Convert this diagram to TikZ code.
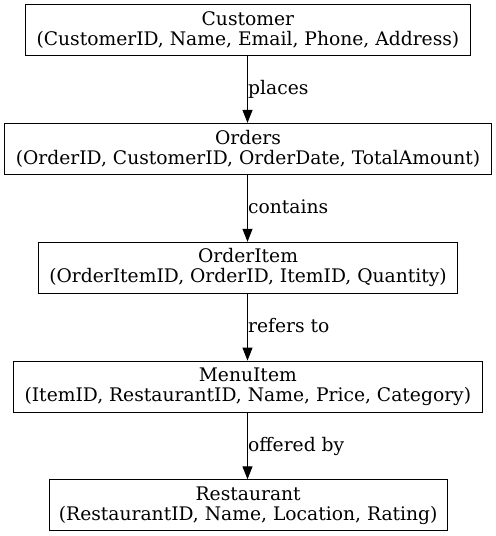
\documentclass[tikz,border=0pt]{standalone}
\usepackage{fontspec}
\setmainfont{DejaVu Serif}
\usetikzlibrary{arrows.meta}
\begin{document}
\begin{tikzpicture}[x=1bp,y=-1bp,
  entity/.style={draw=black,line width=1bp,rectangle,inner sep=0pt,align=center,
    font=\fontsize{18.7bp}{20bp}\selectfont},
  rel/.style={anchor=base west,inner sep=0pt,font=\fontsize{18.7bp}{20bp}\selectfont},
  link/.style={draw=black,line width=1bp,-{Triangle[length=13bp,width=10bp]}}]
\useasboundingbox (0,0) rectangle (496,536);
\node[entity,minimum width=445.7bp,minimum height=51bp] (customer) at (247.9,30.5)
  {Customer\\(CustomerID, Name, Email, Phone, Address)};
\node[entity,minimum width=486bp,minimum height=51bp] (orders) at (248,148.9)
  {Orders\\(OrderID, CustomerID, OrderDate, TotalAmount)};
\node[entity,minimum width=419.4bp,minimum height=51bp] (orderitem) at (248,267.8)
  {OrderItem\\(OrderItemID, OrderID, ItemID, Quantity)};
\node[entity,minimum width=469bp,minimum height=51bp] (menuitem) at (247.8,386.6)
  {MenuItem\\(ItemID, RestaurantID, Name, Price, Category)};
\node[entity,minimum width=398.3bp,minimum height=51bp] (restaurant) at (248.2,505.3)
  {Restaurant\\(RestaurantID, Name, Location, Rating)};
\coordinate (x0) at (247.5,0);
\draw[link] (customer.south -| x0) -- (orders.north -| x0);
\draw[link] (orders.south -| x0) -- (orderitem.north -| x0);
\draw[link] (orderitem.south -| x0) -- (menuitem.north -| x0);
\draw[link] (menuitem.south -| x0) -- (restaurant.north -| x0);
\node[rel] (l1) at (248,95) {places};
\node[rel] (l2) at (248,213.7) {contains};
\node[rel] (l3) at (248,332.2) {refers to};
\node[rel] (l4) at (248,451) {offered by};
\end{tikzpicture}
\end{document}
